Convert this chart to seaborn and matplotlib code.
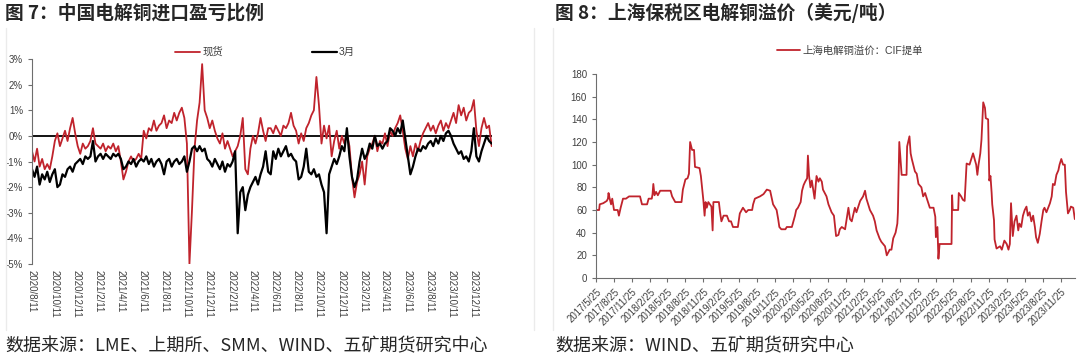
import matplotlib
matplotlib.use("Agg")
import matplotlib.pyplot as plt
from matplotlib.lines import Line2D
import numpy as np
import pandas as pd
import seaborn as sns

# ---- data: import profit/loss ratio (%), weekly from 2020/8/11
spot_pct = [
    -0.6, -1.0, -0.5, -1.2, -0.9, -1.3, -1.1, -1.3, -0.8,
    -0.2, 0.1, -0.4, -0.1, 0.2, -0.2, 0.3, 0.7, 0.1,
    -0.4, -0.7, -0.3, -0.5, -0.4, -0.2, 0.3, -0.3,
    -0.4, -0.5, -0.3, -0.6, -0.4, -0.5, -0.3, -0.6, -0.4,
    -1.0, -1.7, -1.4, -1.0, -0.8, -1.0, -0.9, -0.7, -0.9,
    0.2, -0.1, 0.3, 0.2, 0.6, 0.2, 0.4, 0.5,
    0.8, 0.3, 0.6, 0.5, 0.9, 0.6, 0.9, 1.1, 0.7,
    -0.3, -5.0, -2.9, -0.5, 0.6, 1.3, 2.8, 1.0, 0.7,
    0.3, 0.6, 0.2, -0.1, -0.3, 0.1, -0.5, -0.2,
    -0.5, -0.8, -0.6, -0.4, 0.0, 0.7, -1.3, -1.5, -0.5,
    0.0, -0.3, 0.1, 0.7, 0.2, -0.2, 0.3,
    0.3, 0.1, 0.4, 0.2, 0.0, 0.4, 0.3, 0.5, 0.9, 0.4,
    0.2, -0.3, 0.1, -0.2, 0.3, 0.5, 0.8, 1.0, 2.3, 1.2,
    -0.3, 0.4, -0.1, 0.4, -0.8, -0.2, 0.2, -0.5, 0.0, -0.3,
    0.1, -0.4, -1.6, -2.4, -1.8, -1.5, -1.0, -1.9, -0.8, -0.5,
    -0.3, 0.0, -0.6, -0.2, -0.3, 0.1, -0.4, 0.2, 0.0,
    0.3, 0.5, 0.8, 0.2, -0.5, -0.9, -0.4,
    -0.8, -0.3, -0.6, -0.2, 0.1, 0.3, 0.5, 0.2, 0.4,
    0.1, 0.4, 0.6, 0.2, 0.5, 0.3, 0.6, 0.9, 0.5, 1.2, 0.8, 1.1, 0.6,
    0.9, 1.0, 1.4, 0.2, -0.4, 0.3, 0.7, 0.3, 0.4, -0.4,
]
march_pct = [
    -1.3, -1.6, -1.2, -1.9, -1.5, -1.7, -1.4, -1.8, -1.5,
    -1.3, -2.0, -1.9, -1.5, -1.6, -1.3, -1.2, -1.4, -1.1,
    -1.0, -0.9, -1.1, -0.8, -0.9, -0.8, -0.2, -1.0,
    -0.8, -0.7, -0.9, -0.7, -0.8, -0.9, -0.7, -0.8, -0.7,
    -0.9, -1.3, -1.2, -1.0, -1.1, -0.9, -1.2, -1.0, -0.9,
    -1.0, -0.8, -1.1, -0.9, -1.2, -1.0, -0.9, -1.1,
    -1.5, -1.0, -0.9, -1.2, -1.0, -0.9, -1.1, -1.0, -0.8,
    -1.4, -1.0, -0.5, -0.4, -0.6, -0.4, -0.6, -0.5, -0.9,
    -1.0, -1.2, -0.9, -1.1, -1.3, -1.0, -1.4, -1.1,
    -1.2, -1.0, -0.6, -3.8, -2.2, -2.0, -2.9, -2.3, -2.0,
    -1.8, -1.6, -1.9, -1.5, -1.2, -0.6, -1.4,
    -1.5, -0.6, -0.9, -0.5, -0.8, -0.6, -0.4, -0.8, -0.7, -0.9,
    -1.0, -1.7, -1.6, -1.2, -0.5, -1.4, -1.5, -1.3, -1.6, -1.5,
    -1.9, -2.2, -3.8, -1.5, -1.2, -0.9, -1.1, -0.8, -0.4, -0.6,
    0.3, -0.8, -1.6, -2.0, -1.7, -1.0, -0.5, -0.9, -0.7, -0.3,
    -0.5, 0.0, -0.4, -0.3, -0.5, -0.3, -0.2, 0.3, 0.2,
    0.0, 0.3, 0.1, 0.6, -0.1, -0.8, -1.5,
    -1.2, -0.8, -0.5, -0.6, -0.4, -0.5, -0.3, -0.2, -0.4,
    -0.1, -0.3, 0.0, -0.2, 0.1, 0.2, 0.0, -0.3, -0.5, -0.7, -0.6, -0.9, -0.8,
    -1.0, -0.6, 0.3, -0.8, -1.0, -0.6, -0.3, 0.0, -0.2, -0.3,
]

# ---- data: Shanghai bonded copper premium (USD/t)
premium_dates = [
    "2017-05-25", "2017-06-10", "2017-06-13", "2017-07-01", "2017-07-19", "2017-07-25",
    "2017-07-28", "2017-08-03", "2017-08-10", "2017-08-16", "2017-08-25", "2017-09-13",
    "2017-09-19", "2017-09-28", "2017-10-10", "2017-10-25", "2017-11-10", "2018-01-05",
    "2018-01-15", "2018-02-10", "2018-02-18", "2018-03-06", "2018-03-10", "2018-03-14",
    "2018-03-20", "2018-03-28", "2018-04-06", "2018-04-18", "2018-06-10", "2018-06-18",
    "2018-07-04", "2018-08-05", "2018-08-12", "2018-08-25", "2018-09-05", "2018-09-12",
    "2018-09-18", "2018-09-28", "2018-10-08", "2018-10-13", "2018-11-05", "2018-11-12",
    "2018-11-18", "2018-11-25", "2018-12-01", "2018-12-06", "2018-12-12", "2018-12-20",
    "2019-01-05", "2019-01-11", "2019-01-15", "2019-02-12", "2019-02-18", "2019-02-25",
    "2019-03-08", "2019-03-25", "2019-04-05", "2019-04-15", "2019-04-25", "2019-05-20",
    "2019-05-30", "2019-06-15", "2019-07-01", "2019-07-12", "2019-08-01", "2019-08-06",
    "2019-08-15", "2019-09-10", "2019-09-28", "2019-10-15", "2019-11-01", "2019-11-10",
    "2019-11-16", "2019-12-04", "2019-12-12", "2019-12-18", "2019-12-28", "2020-01-18",
    "2020-01-25", "2020-02-20", "2020-02-28", "2020-03-07", "2020-03-13", "2020-03-22",
    "2020-04-05", "2020-04-12", "2020-04-20", "2020-04-28", "2020-05-08", "2020-05-12",
    "2020-05-18", "2020-05-25", "2020-06-01", "2020-06-08", "2020-06-15", "2020-06-25",
    "2020-07-05", "2020-07-12", "2020-07-22", "2020-07-28", "2020-08-15", "2020-08-25",
    "2020-09-10", "2020-09-22", "2020-10-03", "2020-10-15", "2020-10-22", "2020-11-01",
    "2020-11-18", "2020-12-05", "2020-12-13", "2020-12-22", "2021-01-07", "2021-01-15",
    "2021-02-03", "2021-02-18", "2021-02-28", "2021-03-07", "2021-03-25", "2021-04-10",
    "2021-04-19", "2021-04-28", "2021-05-13", "2021-05-22", "2021-06-10", "2021-06-19",
    "2021-07-04", "2021-07-13", "2021-07-22", "2021-08-03", "2021-08-12", "2021-08-15",
    "2021-08-22", "2021-09-03", "2021-09-28", "2021-10-01", "2021-10-13", "2021-10-19",
    "2021-10-25", "2021-11-10", "2021-11-19", "2021-11-28", "2021-12-13", "2021-12-22",
    "2022-01-01", "2022-01-10", "2022-01-25", "2022-02-13", "2022-02-22", "2022-02-25",
    "2022-03-05", "2022-03-10", "2022-03-16", "2022-05-16", "2022-05-19", "2022-05-22",
    "2022-06-19", "2022-06-22", "2022-07-04", "2022-07-13", "2022-07-22", "2022-08-01",
    "2022-08-16", "2022-09-03", "2022-09-19", "2022-09-25", "2022-10-01", "2022-10-10",
    "2022-10-16", "2022-10-25", "2022-11-03", "2022-11-07", "2022-11-19", "2022-11-25",
    "2022-12-01", "2022-12-07", "2022-12-10", "2022-12-19", "2022-12-22", "2023-01-01",
    "2023-01-19", "2023-01-28", "2023-02-10", "2023-02-22", "2023-03-03", "2023-03-10",
    "2023-03-16", "2023-03-25", "2023-04-03", "2023-04-13", "2023-04-22", "2023-04-28",
    "2023-05-07", "2023-05-16", "2023-05-25", "2023-06-03", "2023-06-10", "2023-06-19",
    "2023-06-28", "2023-07-07", "2023-07-16", "2023-07-22", "2023-07-31", "2023-08-10",
    "2023-08-19", "2023-08-28", "2023-09-03", "2023-09-13", "2023-09-22", "2023-10-01",
    "2023-10-10", "2023-10-16", "2023-10-25", "2023-11-03", "2023-11-13", "2023-11-19",
    "2023-11-28", "2023-12-07", "2023-12-16", "2023-12-22", "2024-01-01", "2024-01-10",
    "2024-01-16", "2024-01-28", "2024-02-05",
]
premium_values = [
    60, 60, 65, 66, 68, 70,
    75, 70, 65, 70, 60, 60,
    55, 62, 70, 70, 72, 72,
    65, 65, 70, 70, 74, 83,
    73, 76, 73, 77, 77, 72,
    67, 67, 78, 87, 88, 92,
    120, 113, 113, 98, 97, 90,
    80, 68, 55, 67, 62, 67,
    63, 42, 67, 67, 58, 50,
    55, 55, 50, 50, 45, 45,
    57, 62, 58, 60, 60, 65,
    70, 72, 74, 78, 77, 70,
    65, 60, 52, 45, 43, 43,
    45, 45, 50, 55, 60, 62,
    67, 77, 82, 85, 88, 108,
    90, 80, 86, 78, 70, 90,
    85, 88, 85, 78, 72, 65,
    58, 55, 37, 38, 43, 45,
    43, 62, 52, 50, 62, 58,
    68, 72, 77, 70, 60, 55,
    50, 42, 35, 32, 28, 20,
    25, 25, 35, 40, 48, 58,
    120, 91, 91, 116, 125, 110,
    105, 94, 92, 83, 80, 72,
    75, 70, 62, 62, 54, 36,
    45, 17, 30, 30, 73, 60,
    60, 75, 72, 69, 68, 101,
    100, 110, 100, 91, 100, 110,
    122, 155, 150, 141, 140, 86,
    90, 75, 65, 51, 34, 26,
    28, 25, 33, 30, 25, 30,
    66, 37, 50, 55, 42, 48,
    45, 55, 60, 63, 55, 58,
    50, 55, 45, 36, 31, 39,
    50, 60, 62, 58, 62, 66,
    72, 83, 82, 91, 95, 100,
    105, 100, 100, 76, 57, 60,
    63, 62, 52,
]

RED = "#C0232C"
TXT = "#404040"
SPINE = "#6e6e6e"
CJK = ["Noto Sans CJK SC", "DejaVu Sans"]

sns.set_style("ticks")
plt.rcParams["font.family"] = ["Liberation Sans", "Noto Sans CJK SC"]

fig = plt.figure(figsize=(10.8, 3.57), dpi=100)
W, H = 1080, 357
ax1 = fig.add_axes([32 / W, 1 - 264 / H, 460 / W, 205 / H])
ax2 = fig.add_axes([596 / W, 1 - 278 / H, 479 / W, 204 / H])

# ---- left chart
df1 = pd.DataFrame({
    "date": pd.date_range("2020-08-11", periods=len(spot_pct), freq="7D"),
    "spot": spot_pct,
    "march": march_pct,
})
sns.lineplot(data=df1, x="date", y="spot", ax=ax1, color=RED, lw=1.3, label="现货")
sns.lineplot(data=df1, x="date", y="march", ax=ax1, color="black", lw=1.6, label="3月")
ax1.axhline(0, color="black", lw=1.3, zorder=1)
ax1.set_ylim(-5, 3)
ax1.set_yticks(range(-5, 4))
ax1.set_yticklabels([f"{v}%" for v in range(-5, 4)])
xt1 = pd.date_range("2020-08-11", "2023-12-11", freq=pd.DateOffset(months=2))
ax1.set_xticks(xt1)
ax1.set_xticklabels([f"{d.year}/{d.month}/{d.day}" for d in xt1],
                    rotation=-90, ha="center", va="top")
ax1.set_xlim(pd.Timestamp("2020-08-11"), pd.Timestamp("2024-01-31"))
for s in ["top", "right", "bottom"]:
    ax1.spines[s].set_visible(False)
ax1.spines["left"].set_color(SPINE)
ax1.spines["left"].set_linewidth(0.8)
ax1.tick_params(axis="x", length=0, pad=4, labelsize=7, colors=TXT)
ax1.tick_params(axis="y", length=3, width=0.8, color=SPINE, labelsize=7, colors=TXT)
ax1.set_xlabel("")
ax1.set_ylabel("")
ax1.legend(loc="center", bbox_to_anchor=(265 / W, 1 - 52 / H), bbox_transform=fig.transFigure,
           ncol=2, frameon=False, fontsize=7.5, handlelength=2.4, handletextpad=0.2,
           columnspacing=8.5, labelcolor=TXT)

# ---- right chart
df2 = pd.DataFrame({"date": pd.to_datetime(premium_dates), "premium": premium_values})
sns.lineplot(data=df2, x="date", y="premium", ax=ax2, color=RED, lw=1.3,
             label="上海电解铜溢价：CIF提单")
ax2.set_ylim(0, 180)
ax2.set_yticks(range(0, 181, 20))
xt2 = pd.date_range("2017-05-25", "2023-11-25", freq=pd.DateOffset(months=3))
ax2.set_xticks(xt2)
ax2.set_xticklabels([f"{d.year}/{d.month}/{d.day}" for d in xt2],
                    rotation=45, ha="right", rotation_mode="anchor")
ax2.set_xlim(pd.Timestamp("2017-05-25"), pd.Timestamp("2024-02-06"))
for s in ["top", "right"]:
    ax2.spines[s].set_visible(False)
for s in ["left", "bottom"]:
    ax2.spines[s].set_color(SPINE)
    ax2.spines[s].set_linewidth(0.8)
ax2.tick_params(axis="both", length=3, width=0.8, color=SPINE, labelsize=7, colors=TXT)
ax2.set_xlabel("")
ax2.set_ylabel("")
ax2.legend(loc="center", bbox_to_anchor=(850 / W, 1 - 51 / H), bbox_transform=fig.transFigure,
           frameon=False, fontsize=7.5, handlelength=2.2, handletextpad=0.3, labelcolor=TXT)

# ---- faint panel borders
for x in [6, 534, 553]:
    fig.add_artist(Line2D([x / W, x / W], [1 - 330 / H, 1 - 28 / H], color="#ebebeb", lw=1))

# ---- titles and sources
fig.text(5 / W, 1 - 13 / H, "图 7：中国电解铜进口盈亏比例", fontsize=13.5, weight="bold",
         va="center", family=CJK)
fig.text(555 / W, 1 - 13 / H, "图 8：上海保税区电解铜溢价（美元/吨）", fontsize=13.5, weight="bold",
         va="center", family=CJK)
fig.text(5 / W, 1 - 346 / H, "数据来源：LME、上期所、SMM、WIND、五矿期货研究中心", fontsize=13,
         va="center", family=CJK)
fig.text(555 / W, 1 - 346 / H, "数据来源：WIND、五矿期货研究中心", fontsize=13,
         va="center", family=CJK)

fig.savefig("out.png", dpi=100)
